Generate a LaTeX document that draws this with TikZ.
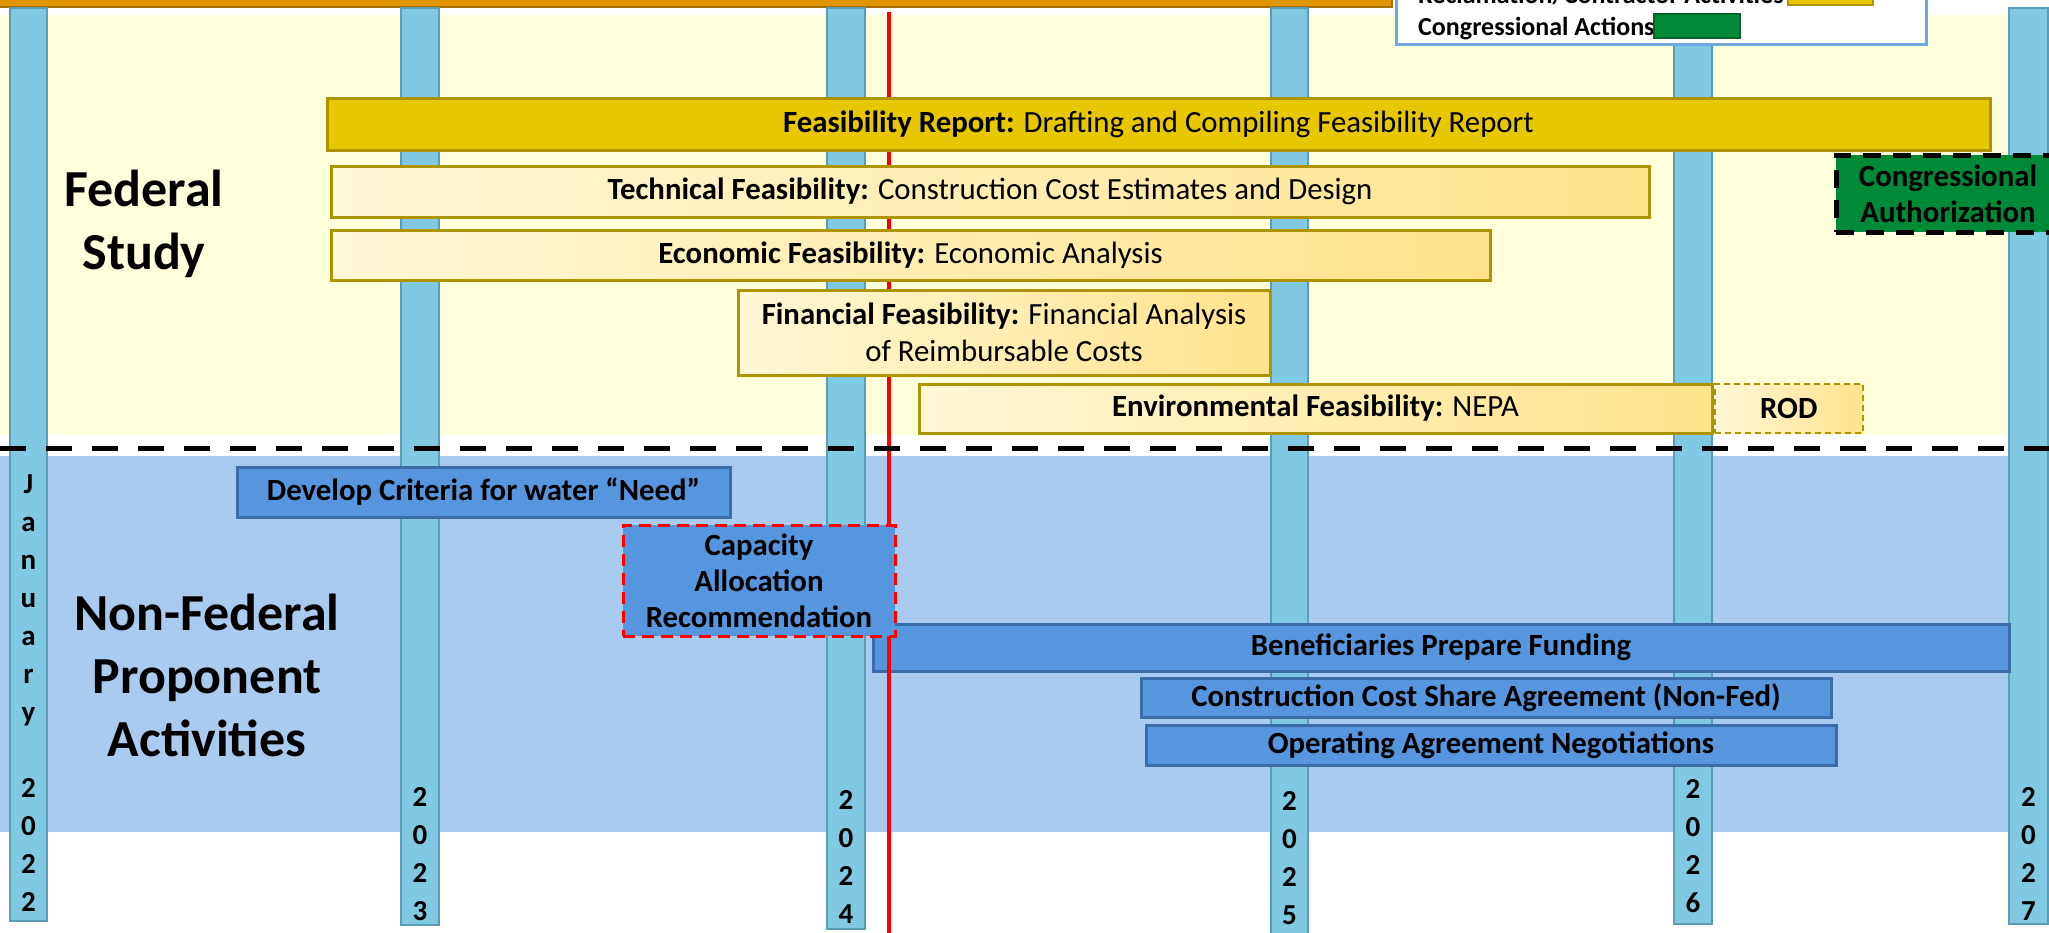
\documentclass[tikz,border=0pt]{standalone}
\usepackage{fontspec}
\setmainfont{Carlito}
\usetikzlibrary{positioning}

\definecolor{fedbg}{HTML}{FFFFDC}
\definecolor{nonfedbg}{HTML}{A9CBEF}
\definecolor{topgold}{HTML}{E09600}
\definecolor{topgoldline}{HTML}{A87000}
\definecolor{barblue}{HTML}{7FC9E3}
\definecolor{barblueline}{HTML}{5A9DB5}
\definecolor{gold}{HTML}{E6C700}
\definecolor{goldline}{HTML}{AD9400}
\definecolor{fedlite}{HTML}{FFF7D6}
\definecolor{feddeep}{HTML}{FFE38C}
\definecolor{actblue}{HTML}{5596DE}
\definecolor{actblueline}{HTML}{3C6CA8}
\definecolor{congreen}{HTML}{008A38}
\definecolor{congreenline}{HTML}{00662A}
\definecolor{legendline}{HTML}{6FA8DC}

\begin{document}
\begin{tikzpicture}[x=1pt,y=-1pt,
    yearbar/.style={fill=barblue,draw=barblueline,line width=2.5pt},
    yearlabel/.style={font=\fontsize{29}{38}\selectfont\bfseries,align=center,inner sep=0pt,anchor=south},
    reportbar/.style={font=\fontsize{30.8}{36}\selectfont,fill=gold,draw=goldline,line width=3pt,inner sep=0pt},
    fedbar/.style={font=\fontsize{30.8}{37}\selectfont,left color=fedlite,right color=feddeep,draw=goldline,line width=3pt,inner sep=0pt},
    rodbox/.style={font=\fontsize{30.8}{36}\selectfont\bfseries,left color=fedlite,right color=feddeep,draw=goldline,line width=2.5pt,dash pattern=on 6pt off 4pt,inner sep=0pt},
    nonfedbar/.style={font=\fontsize{30.8}{36}\selectfont\bfseries,fill=actblue,draw=actblueline,line width=3pt,inner sep=0pt},
    capbox/.style={nonfedbar,draw=red,dash pattern=on 12pt off 7pt,align=center},
    congbox/.style={font=\fontsize{30.8}{36}\selectfont\bfseries,fill=congreen,draw=black,line width=5pt,dash pattern=on 18pt off 12pt,align=center,inner sep=0pt},
    sectiontitle/.style={font=\fontsize{52}{63}\selectfont\bfseries,align=center,inner sep=0pt},
    legendbox/.style={fill=white,draw=legendline,line width=3pt,inner sep=0pt},
    legendtext/.style={font=\fontsize{26}{32}\selectfont\bfseries,inner sep=0pt},
    divider/.style={line width=5pt,dash pattern=on 26pt off 20pt},
    nowline/.style={red,line width=4pt}]

  \useasboundingbox (0,0) rectangle (2049,932);

  % background bands
  \fill[fedbg] (0,15) rectangle (2049,435);
  \fill[nonfedbg] (0,456) rectangle (2049,832);
  \draw[fill=topgold,draw=topgoldline,line width=2pt] (-10,-10) rectangle (1392,7);

  % year columns
  \foreach \x/\w/\bot/\base/\yr/\txt in {28.5/37/921/912/2022/J\\a\\n\\u\\a\\r\\y\\~\\2\\0\\2\\2,
      420/38/925/921/2023/2\\0\\2\\3, 846/38/929/924/2024/2\\0\\2\\4,
      1289.5/37/945/925/2025/2\\0\\2\\5, 1693/38/924/913/2026/2\\0\\2\\6,
      2028.5/39/924/921/2027/2\\0\\2\\7} {
    \draw[yearbar] (\x-\w/2,8) rectangle (\x+\w/2,\bot);
    \node[yearlabel] (lab\yr) at (\x,\base) {\txt};
  }

  % legend
  \node[legendbox,minimum width=530,minimum height=80,anchor=south west] (legend) at (1395,46) {};
  \node[legendtext,anchor=base west] (legrec) at (1418,3.5) {Reclamation/Contractor Activities};
  \node[legendtext,anchor=base west] (legcon) at (1418,35) {Congressional Actions};
  \draw[fill=gold,draw=goldline,line width=2pt] (1788,-19) rectangle (1873,5);
  \draw[fill=congreen,draw=congreenline,line width=2pt] (1654,14) rectangle (1740,38);

  % section titles
  \node[sectiontitle] (fedtitle) at (144,224) {Federal\\Study};
  \node[sectiontitle] (nonfedtitle) at (207,675) {Non-Federal\\Proponent\\Activities};

  % today line runs over the funding bar, under the federal bars
  \node[nonfedbar,minimum width=1136,minimum height=47] (funding) at (1441,647.5) {Beneficiaries Prepare Funding};
  \coordinate (nowtop) at (889,12);
  \coordinate (nowbottom) at (889,940);
  \draw[nowline] (nowtop) -- (nowbottom);

  % federal study
  \node[reportbar,minimum width=1663,minimum height=52] (report) at (1158.5,124)
    {\textbf{Feasibility Report:} Drafting and Compiling Feasibility Report};
  \node[fedbar,minimum width=1318,minimum height=51] (technical) at (990,191.5)
    {\textbf{Technical Feasibility:} Construction Cost Estimates and Design};
  \node[fedbar,minimum width=1159,minimum height=50] (economic) at (910.5,255)
    {\textbf{Economic Feasibility:} Economic Analysis};
  \node[fedbar,align=center,minimum width=532,minimum height=85] (financial) at (1004,332.5)
    {\textbf{Financial Feasibility:} Financial Analysis\\of Reimbursable Costs};
  \node[fedbar,minimum width=793,minimum height=49] (environ) at (1315.5,408.5)
    {\textbf{Environmental Feasibility:} NEPA};
  \node[rodbox,minimum width=148,minimum height=49,right=0pt of environ] (rod) {ROD};

  % non-federal activities
  \node[nonfedbar,minimum width=493,minimum height=50] (criteria) at (483.5,492) {Develop Criteria for water “Need”};
  \node[nonfedbar,minimum width=690,minimum height=39] (costshare) at (1486,697.5) {Construction Cost Share Agreement (Non-Fed)};
  \node[nonfedbar,minimum width=690,minimum height=40] (operating) at (1491,745) {Operating Agreement Negotiations};

  % divider
  \coordinate (divleft) at (0,448);
  \coordinate (divright) at (2049,448);
  \draw[divider] (divleft) -- (divright);

  \node[capbox,minimum width=272,minimum height=111] (capacity) at (759,580.5) {Capacity\\Allocation\\Recommendation};
  \node[congbox,minimum width=224,minimum height=77] (congress) at (1948,193.5) {Congressional\\Authorization};
\end{tikzpicture}
\end{document}
